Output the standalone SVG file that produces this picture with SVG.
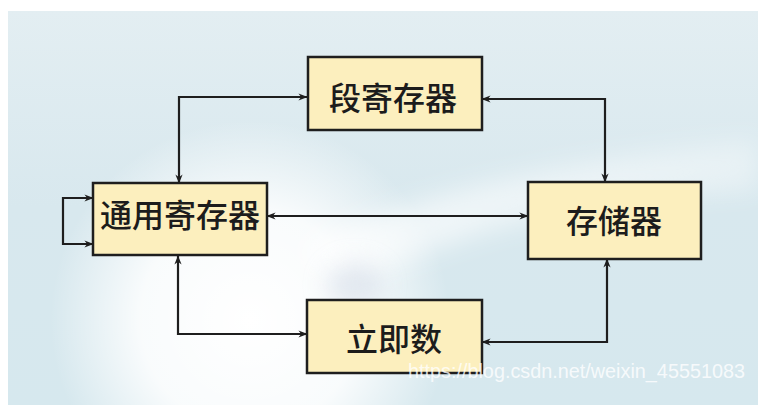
<svg xmlns="http://www.w3.org/2000/svg" width="764" height="415" viewBox="0 0 764 415">
  <defs>
    <style>
      .box { fill: #fcefbe; stroke: #1e1e1e; stroke-width: 2.5; }
      .lbl { font-family: "Noto Sans CJK SC", "Noto Sans", sans-serif; font-size: 32px; font-weight: 500; fill: #1c1c1c; text-anchor: middle; dominant-baseline: central; }
      .conn { fill: none; stroke: #1e1e1e; stroke-width: 2.2; }
      .wm { font-family: "Liberation Sans", Arial, sans-serif; font-size: 20px; fill: #ffffff; fill-opacity: 0.8; }
    </style>
    <marker id="arr" viewBox="0 0 10 10" refX="9.5" refY="5" markerWidth="9" markerHeight="9" markerUnits="userSpaceOnUse" orient="auto-start-reverse">
      <path d="M0,1 L10,5 L0,9 L3,5 Z" fill="#1e1e1e"/>
    </marker>
    <radialGradient id="glow" cx="250" cy="320" r="200" gradientUnits="userSpaceOnUse">
      <stop offset="0" stop-color="#ffffff" stop-opacity="1"/>
      <stop offset="0.55" stop-color="#ffffff" stop-opacity="0.85"/>
      <stop offset="1" stop-color="#ffffff" stop-opacity="0"/>
    </radialGradient>
    <linearGradient id="band" x1="300" y1="260" x2="760" y2="120" gradientUnits="userSpaceOnUse">
      <stop offset="0" stop-color="#ffffff" stop-opacity="0.7"/>
      <stop offset="1" stop-color="#ffffff" stop-opacity="0.35"/>
    </linearGradient>
    <linearGradient id="base" x1="0" y1="0" x2="0" y2="1">
      <stop offset="0" stop-color="#e3eef2"/>
      <stop offset="0.5" stop-color="#d8e8ee"/>
      <stop offset="1" stop-color="#d6e8ee"/>
    </linearGradient>
    <filter id="blur" filterUnits="userSpaceOnUse" x="0" y="0" width="764" height="415">
      <feGaussianBlur stdDeviation="12"/>
    </filter>
  </defs>

  <rect x="0" y="0" width="764" height="415" fill="#ffffff"/>
  <g id="background">
    <rect x="8" y="11" width="750" height="394" fill="url(#base)"/>
    <rect x="8" y="11" width="750" height="394" fill="url(#glow)"/>
    <path d="M300,250 Q450,170 758,140 L758,190 Q520,200 340,290 Z" fill="url(#band)" filter="url(#blur)"/>
    <ellipse cx="355" cy="285" rx="28" ry="22" fill="#c9d4e2" opacity="0.5" filter="url(#blur)"/>
  </g>

  <g id="connectors">
    <path class="conn" d="M179,183 V97 H307" marker-start="url(#arr)" marker-end="url(#arr)"/>
    <path class="conn" d="M482,99 H605 V182" marker-start="url(#arr)" marker-end="url(#arr)"/>
    <path class="conn" d="M267,216 H528" marker-start="url(#arr)" marker-end="url(#arr)"/>
    <path class="conn" d="M178,256 V334 H307" marker-start="url(#arr)" marker-end="url(#arr)"/>
    <path class="conn" d="M607,259 V342 H482" marker-start="url(#arr)" marker-end="url(#arr)"/>
    <path class="conn" d="M93,198 H63 V244 H93" marker-start="url(#arr)" marker-end="url(#arr)"/>
  </g>

  <g id="node-segreg">
    <rect class="box" x="308" y="57" width="174" height="73"/>
    <text class="lbl" x="393" y="96">段寄存器</text>
  </g>
  <g id="node-genreg">
    <rect class="box" x="93" y="183" width="174" height="72"/>
    <text class="lbl" x="180" y="213">通用寄存器</text>
  </g>
  <g id="node-memory">
    <rect class="box" x="528" y="182" width="173" height="77"/>
    <text class="lbl" x="614" y="219">存储器</text>
  </g>
  <g id="node-imm">
    <rect class="box" x="307" y="300" width="175" height="73"/>
    <text class="lbl" x="394" y="337">立即数</text>
  </g>

  <text class="wm" x="408" y="378" textLength="337" lengthAdjust="spacingAndGlyphs">https://blog.csdn.net/weixin_45551083</text>
</svg>
